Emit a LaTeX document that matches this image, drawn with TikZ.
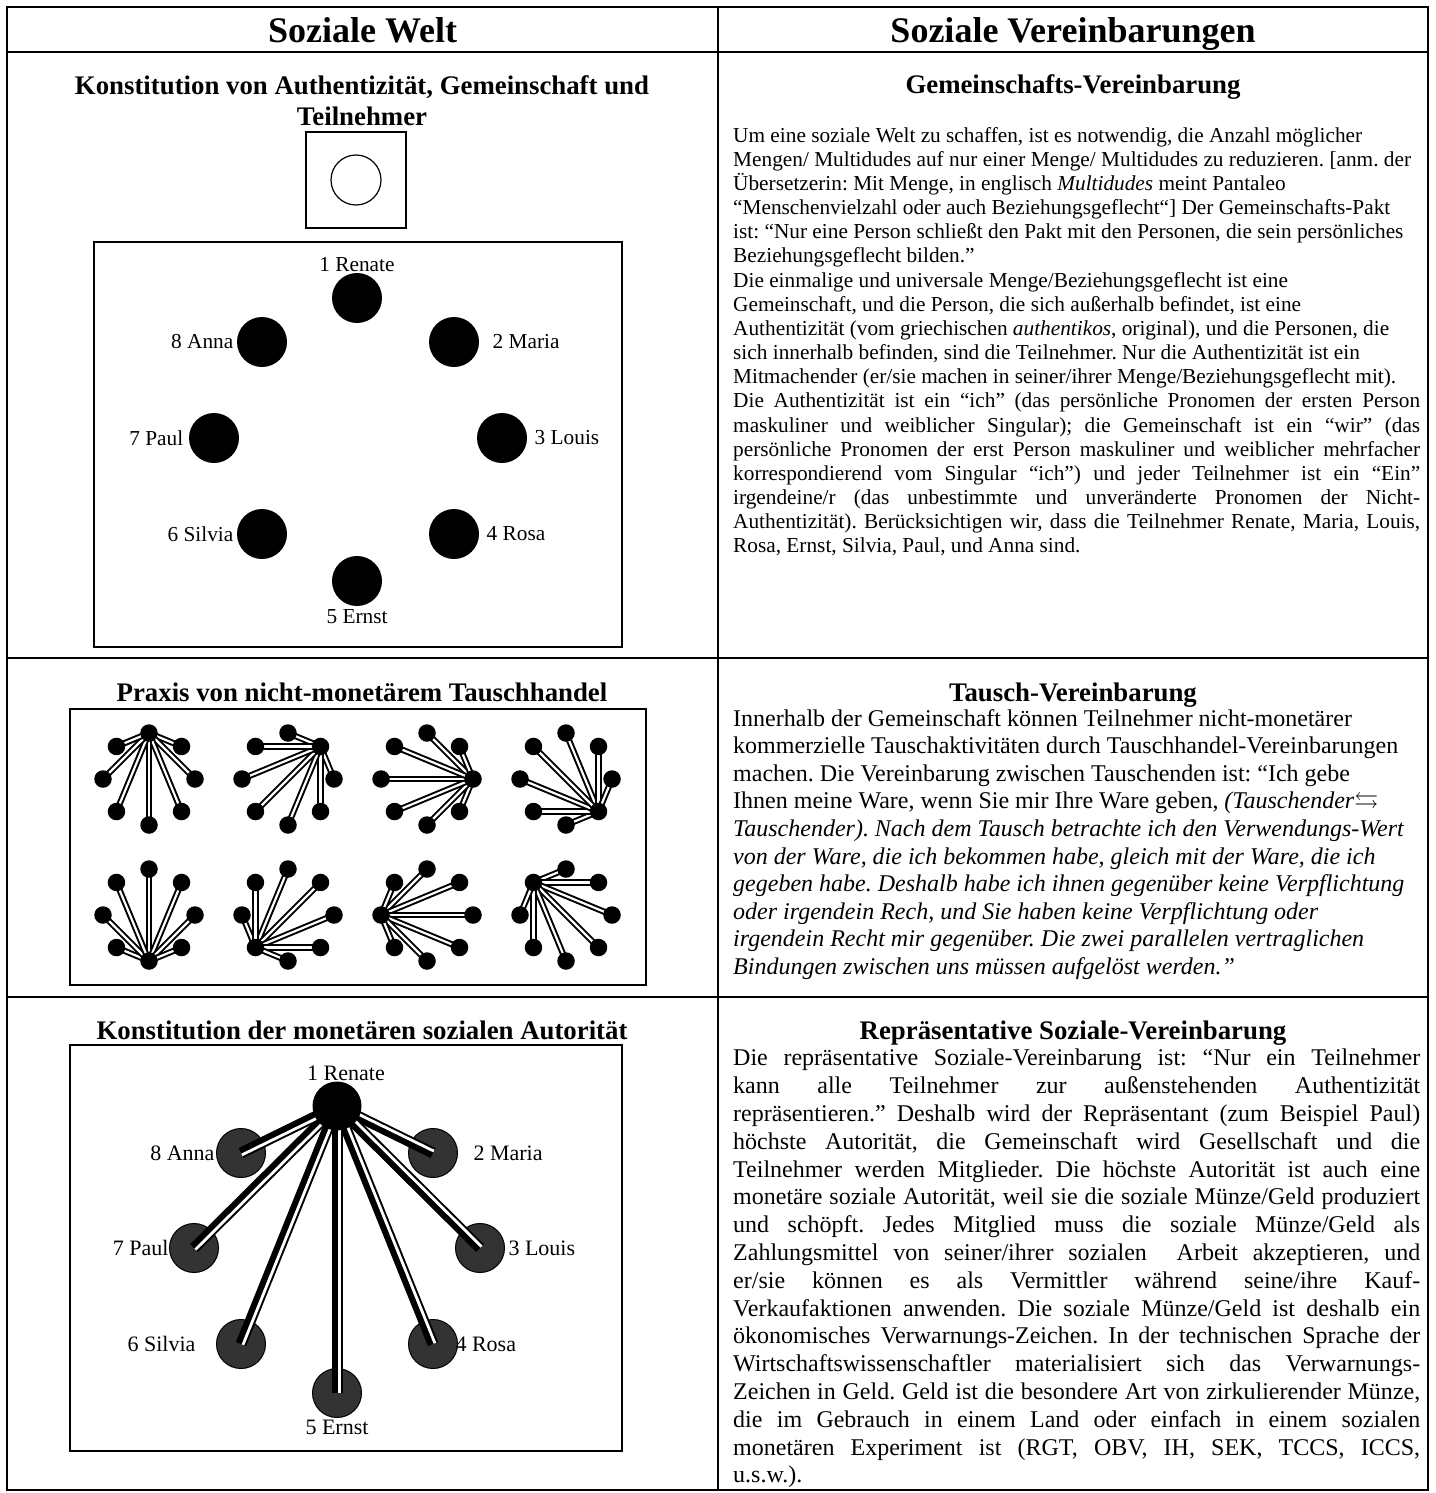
\documentclass[tikz,border=0pt]{standalone}
\usepackage{fontspec}
\setmainfont{Liberation Serif}
\usepackage{amssymb}
\usetikzlibrary{calc}
\frenchspacing

\newcommand\headfont{\fontsize{36}{40}\selectfont\bfseries}
\newcommand\subfont{\fontsize{26.8}{31}\selectfont\bfseries}
\newcommand\smallfont{\fontsize{21.3}{24.15}\selectfont}
\newcommand\bodyfont{\fontsize{24}{27.6}\selectfont}
\newlength\colw
\setlength\colw{687pt}
\newcommand\jline[1]{\makebox[\colw][s]{#1}}

\begin{document}
\begin{tikzpicture}[x=1pt,y=-1pt]
   \tikzstyle{grid}=[line width=2.5pt]
   \tikzstyle{box}=[line width=1.8pt]
   \tikzstyle{heading}=[font=\headfont, anchor=base]
   \tikzstyle{subhead}=[font=\subfont, align=center, anchor=base]
   \tikzstyle{prose}=[anchor=north west, inner sep=0pt, align=left]
   \tikzstyle{member}=[circle, fill=black, minimum size=50pt, inner sep=0pt]
   \tikzstyle{token}=[circle, fill=black, minimum size=17.5pt, inner sep=0pt]
   \tikzstyle{barter}=[double=white, double distance=2.2pt, line width=2pt]
   \tikzstyle{client}=[draw, circle, fill=black!80, line width=1pt, minimum size=49pt, inner sep=0pt]
   \tikzstyle{bond}=[line width=11pt]
   \tikzstyle{tag}=[font=\fontsize{22}{25}\selectfont]
   \tikzstyle{every label}=[font=\smallfont]

\useasboundingbox (0,0) rectangle (1435,1493);

% table
\draw[grid] (7,7) rectangle (1428,1490);
\draw[grid] (718,7) -- (718,1490);
\draw[grid] (7,52) -- (1428,52);
\draw[grid] (7,658) -- (1428,658);
\draw[grid] (7,997) -- (1428,997);

\node[heading] (world) at (362.5,42.5) {Soziale Welt};
\node[heading] (pacts) at (1073,42.5) {Soziale Vereinbarungen};

% Gemeinschaft
\node[subhead, anchor=north] (t1) at (362,72) {Konstitution von Authentizität, Gemeinschaft und\\Teilnehmer};
\node[draw, box, minimum width=100pt, minimum height=96pt] (outside) at (356,180) {};
\node[draw, circle, line width=1.2pt, minimum size=50pt] (auth) at (356,180) {};
\draw[box] (94,242) rectangle (622,647);
\foreach \n/\x/\y/\a/\d/\t in {1/357/298/90/-2/1 Renate, 2/454/342/0/10/2 Maria,
    3/502/438/0/4/3 Louis, 4/454/534/0/4/4 Rosa, 5/357/581/-90/0/5 Ernst,
    6/262/534/180/0/6 Silvia, 7/214/438/180/2/7 Paul, 8/262/342/180/0/8 Anna}
  \node[member, label={[label distance=\d pt]\a:\t}] (p\n) at (\x,\y) {};

% Tauschhandel
\node[subhead] (t2) at (362,701) {Praxis von nicht-monetärem Tauschhandel};
\draw[line width=2pt] (70,709) rectangle (646,985);
\foreach \cx/\cy [count=\h] in {149/779,288/779,427/779,566/779,149/915,288/915,427/915,566/915} {
  \foreach \k in {1,...,8}
    \path (\cx,\cy) ++(45*\k-135:46) coordinate (s\h-\k);
  \foreach \k in {1,...,8} {
    \ifnum\k=\h\relax\else \draw[barter] (s\h-\h) -- (s\h-\k); \fi
  }
  \foreach \k in {1,...,8}
    \node[token] (d\h-\k) at (s\h-\k) {};
}

% Autoritaet
\node[subhead] (t3) at (362,1039) {Konstitution der monetären sozialen Autorität};
\draw[line width=2pt] (70,1045) rectangle (622,1451);
\coordinate (c1) at (337,1106);
\foreach \n/\x/\y/\a/\d/\t in {2/433/1153/0/12/2 Maria, 3/480/1248/0/0/3 Louis,
    4/433/1344/0/-6/4 Rosa, 5/337/1393/-90/-1/5 Ernst, 6/241/1344/180/17/6 Silvia,
    7/194/1248/180/-3/7 Paul, 8/241/1153/180/-2/8 Anna}
  \node[client, label={[tag, label distance=\d pt]\a:\t}] (c\n) at (\x,\y) {};
\foreach \n in {2,...,8} {
  \draw[bond] (c1) -- (c\n.center);
  \draw[white, line width=2.8pt] ($(c1)!2.1pt!90:(c\n.center)$) -- ($(c\n.center)!2.1pt!-90:(c1)$);
}
\node[member, minimum size=49pt, label={[tag, label distance=-3pt, xshift=9pt]90:1 Renate}] (boss) at (c1) {};

% Vereinbarungen
\node[subhead] (h1) at (1073,94) {Gemeinschafts-Vereinbarung};
\node[prose, font=\smallfont] (txt1) at (733,127) {Um eine soziale Welt zu schaffen, ist es notwendig, die Anzahl möglicher\\
Mengen/ Multidudes auf nur einer Menge/ Multidudes zu reduzieren. [anm. der\\
Übersetzerin: Mit Menge, in englisch \textit{Multidudes} meint Pantaleo\\
“Menschenvielzahl oder auch Beziehungsgeflecht“] Der Gemeinschafts-Pakt\\
ist: “Nur eine Person schließt den Pakt mit den Personen, die sein persönliches\\
Beziehungsgeflecht bilden.”\\
Die einmalige und universale Menge/Beziehungsgeflecht ist eine\\
Gemeinschaft, und die Person, die sich außerhalb befindet, ist eine\\
Authentizität (vom griechischen \textit{authentikos}, original), und die Personen, die\\
sich innerhalb befinden, sind die Teilnehmer. Nur die Authentizität ist ein\\
Mitmachender (er/sie machen in seiner/ihrer Menge/Beziehungsgeflecht mit).\\
\jline{Die Authentizität ist ein “ich” (das persönliche Pronomen der ersten Person}\\
\jline{maskuliner und weiblicher Singular); die Gemeinschaft ist ein “wir” (das}\\
\jline{persönliche Pronomen der erst Person maskuliner und weiblicher mehrfacher}\\
\jline{korrespondierend vom Singular “ich”) und jeder Teilnehmer ist ein “Ein”}\\
\jline{irgendeine/r (das unbestimmte und unveränderte Pronomen der Nicht-}\\
\jline{Authentizität). Berücksichtigen wir, dass die Teilnehmer Renate, Maria, Louis,}\\
Rosa, Ernst, Silvia, Paul, und Anna sind.};

\node[subhead] (h2) at (1073,701) {Tausch-Vereinbarung};
\node[prose, font=\bodyfont] (txt2) at (733,709) {Innerhalb der Gemeinschaft können Teilnehmer nicht-monetärer\\
kommerzielle Tauschaktivitäten durch Tauschhandel-Vereinbarungen\\
machen. Die Vereinbarung zwischen Tauschenden ist: “Ich gebe\\
Ihnen meine Ware, wenn Sie mir Ihre Ware geben, \textit{(Tauschender}$\leftrightarrows$\\
\textit{Tauschender). Nach dem Tausch betrachte ich den Verwendungs-Wert}\\
\textit{von der Ware, die ich bekommen habe, gleich mit der Ware, die ich}\\
\textit{gegeben habe. Deshalb habe ich ihnen gegenüber keine Verpflichtung}\\
\textit{oder irgendein Rech, und Sie haben keine Verpflichtung oder}\\
\textit{irgendein Recht mir gegenüber. Die zwei parallelen vertraglichen}\\
\textit{Bindungen zwischen uns müssen aufgelöst werden.”}};

\node[subhead] (h3) at (1073,1039) {Repräsentative Soziale-Vereinbarung};
\node[prose, font=\fontsize{24}{27.8}\selectfont] (txt3) at (733,1049) {\jline{Die repräsentative Soziale-Vereinbarung ist: “Nur ein Teilnehmer}\\
\jline{kann alle Teilnehmer zur außenstehenden Authentizität}\\
\jline{repräsentieren.” Deshalb wird der Repräsentant (zum Beispiel Paul)}\\
\jline{höchste Autorität, die Gemeinschaft wird Gesellschaft und die}\\
\jline{Teilnehmer werden Mitglieder. Die höchste Autorität ist auch eine}\\
\jline{monetäre soziale Autorität, weil sie die soziale Münze/Geld produziert}\\
\jline{und schöpft. Jedes Mitglied muss die soziale Münze/Geld als}\\
\jline{Zahlungsmittel von seiner/ihrer sozialen~ Arbeit akzeptieren, und}\\
\jline{er/sie können es als Vermittler während seine/ihre Kauf-}\\
\jline{Verkaufaktionen anwenden. Die soziale Münze/Geld ist deshalb ein}\\
\jline{ökonomisches Verwarnungs-Zeichen. In der technischen Sprache der}\\
\jline{Wirtschaftswissenschaftler materialisiert sich das Verwarnungs-}\\
\jline{Zeichen in Geld. Geld ist die besondere Art von zirkulierender Münze,}\\
\jline{die im Gebrauch in einem Land oder einfach in einem sozialen}\\
\jline{monetären Experiment ist (RGT, OBV, IH, SEK, TCCS, ICCS,}\\
u.s.w.).};

\end{tikzpicture}
\end{document}
